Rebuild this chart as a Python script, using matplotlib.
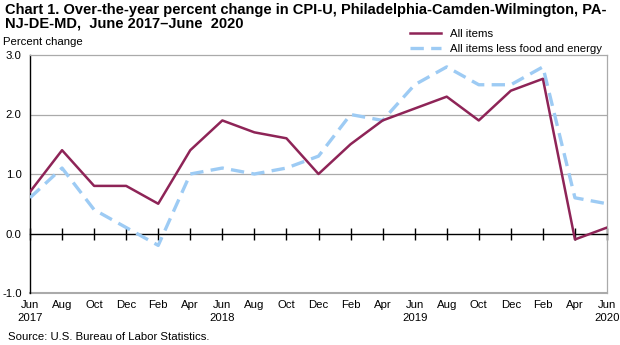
import matplotlib
matplotlib.use("Agg")
import matplotlib.pyplot as plt

plt.rcParams['font.family'] = ['Liberation Sans', 'DejaVu Sans']

months = ["Jun", "Aug", "Oct", "Dec", "Feb", "Apr", "Jun", "Aug", "Oct", "Dec",
          "Feb", "Apr", "Jun", "Aug", "Oct", "Dec", "Feb", "Apr", "Jun"]
years = ["2017", "", "", "", "", "", "2018", "", "", "", "", "", "2019", "", "", "", "", "", "2020"]
all_items = [0.7, 1.4, 0.8, 0.8, 0.5, 1.4, 1.9, 1.7, 1.6, 1.0,
             1.5, 1.9, 2.1, 2.3, 1.9, 2.4, 2.6, -0.1, 0.1]
core = [0.6, 1.1, 0.4, 0.1, -0.2, 1.0, 1.1, 1.0, 1.1, 1.3,
        2.0, 1.9, 2.5, 2.8, 2.5, 2.5, 2.8, 0.6, 0.5]
yticks = [-1.0, 0.0, 1.0, 2.0, 3.0]
title_lines = ["Chart 1. Over-the-year percent change in CPI-U, Philadelphia-Camden-Wilmington, PA-",
               "NJ-DE-MD,  June 2017\u2013June  2020"]

maroon = '#8E2457'
blue = '#9DCBF4'
fs = 8.2

fig = plt.figure(figsize=(6.2, 3.45), dpi=100)
ax = fig.add_axes([30/620, 52/345, 577/620, 238/345])

x = list(range(len(months)))
ax.plot(x, all_items, color=maroon, lw=1.8, label='All items', zorder=4)
ax.plot(x, core, color=blue, lw=2.4, ls=(0, (4, 2.2)), label='All items less food and energy', zorder=3)

ax.set_xlim(0, len(months) - 1)
ax.set_ylim(-1, 3)
ax.set_yticks(yticks)
ax.set_yticklabels([f"{v:.1f}" for v in yticks], fontsize=fs)
ax.tick_params(axis='y', length=0, pad=6)
for v in yticks[1:-1]:
    if v != 0:
        ax.axhline(v, color='#AAAAAA', lw=0.9, zorder=1)

for s in ['top', 'right']:
    ax.spines[s].set_color('#AAAAAA')
    ax.spines[s].set_linewidth(0.9)
ax.spines['left'].set_color('black')
ax.spines['left'].set_linewidth(1.0)
ax.spines['bottom'].set_position(('data', 0))
ax.spines['bottom'].set_color('black')
ax.spines['bottom'].set_linewidth(1.0)
ax.set_xticks(x)
ax.set_xticklabels([])
ax.tick_params(axis='x', direction='inout', length=8, width=1.0, color='black')
ax.axhline(-1, color='#AAAAAA', lw=1.5, zorder=1, clip_on=False)

sec = ax.secondary_xaxis(0)
sec.set_xticks(x)
sec.set_xticklabels([m + ("\n" + y if y else "") for m, y in zip(months, years)],
                    fontsize=fs, va='top', linespacing=1.35)
sec.tick_params(length=0, pad=5)
sec.spines['bottom'].set_visible(False)

fig.text(5/620, 1 - 3/345, title_lines[0], fontsize=10.5, fontweight='bold', va='top', ha='left')
fig.text(5/620, 1 - 17/345, title_lines[1], fontsize=10.5, fontweight='bold', va='top', ha='left')
fig.text(3/620, 1 - 47/345, "Percent change", fontsize=fs, va='bottom', ha='left')
fig.text(8/620, 1 - 342/345, "Source: U.S. Bureau of Labor Statistics.", fontsize=fs, va='bottom', ha='left')

ax.legend(loc='upper left', bbox_to_anchor=(410/620, 1 - 29/345), bbox_transform=fig.transFigure,
          frameon=False, fontsize=fs, handlelength=2.7, handletextpad=0.8, labelspacing=0.45,
          borderpad=0, borderaxespad=0)

fig.savefig("out.png", dpi=100)
